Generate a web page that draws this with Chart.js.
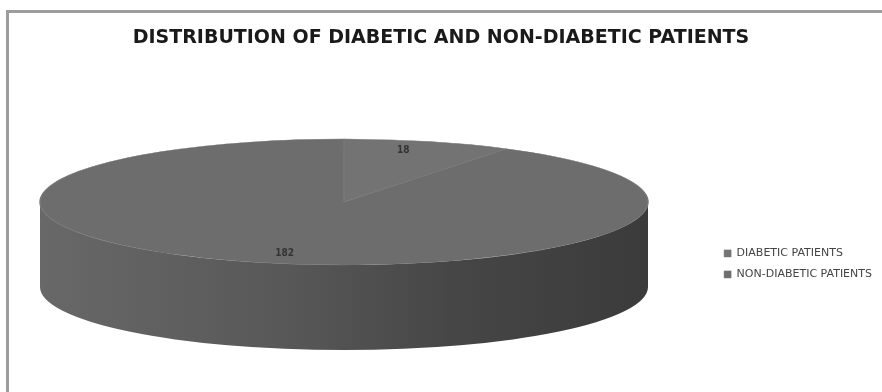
<!DOCTYPE html>
<html>
<head>
<meta charset="utf-8">
<script src="https://cdn.jsdelivr.net/npm/chart.js@4.4.0/dist/chart.umd.min.js"></script>
<style>
  body { margin: 0; background: #fff; }
  #wrap { position: relative; width: 882px; height: 392px; overflow: hidden; }
  #frame { position: absolute; left: 6px; top: 10px; width: 900px; height: 400px;
           border-left: 3px solid #9c9c9c; border-top: 3px solid #9c9c9c; }
  canvas { position: absolute; left: 0; top: 0; }
</style>
</head>
<body>
<div id="wrap">
  <div id="frame"></div>
  <canvas id="chart" width="882" height="392"></canvas>
</div>
<script>
const categories = ['DIABETIC PATIENTS', 'NON-DIABETIC PATIENTS'];
const patientCounts = [18, 182];
const sliceColors = ['#737373', '#6d6d6d'];
const chartTitle = 'DISTRIBUTION OF DIABETIC AND NON-DIABETIC PATIENTS';

// where the tilted pie sits on the canvas
const tilt = { cx: 344, cy: 202, rx: 304, ry: 63, depth: 85, labelX: 0.7, labelY: 0.85 };

// squash the pie into an ellipse and draw the side wall under it
const pie3d = {
  id: 'pie3d',
  beforeDatasetsDraw(chart) {
    const ctx = chart.ctx;
    const meta = chart.getDatasetMeta(0);
    const first = meta.data[0];
    const R = first.outerRadius;

    // side wall, only the front half is visible
    const grad = ctx.createLinearGradient(tilt.cx - tilt.rx, 0, tilt.cx + tilt.rx, 0);
    grad.addColorStop(0, '#686868');
    grad.addColorStop(0.4, '#585858');
    grad.addColorStop(0.68, '#464646');
    grad.addColorStop(1, '#3b3b3b');
    meta.data.forEach(arc => {
      const a0 = Math.max(arc.startAngle, 0);
      const a1 = Math.min(arc.endAngle, Math.PI);
      if (a1 <= a0) return;
      ctx.save();
      ctx.beginPath();
      ctx.ellipse(tilt.cx, tilt.cy, tilt.rx, tilt.ry, 0, a0, a1, false);
      ctx.ellipse(tilt.cx, tilt.cy + tilt.depth, tilt.rx, tilt.ry, 0, a1, a0, true);
      ctx.closePath();
      ctx.fillStyle = grad;
      ctx.fill();
      ctx.restore();
    });

    ctx.save();
    ctx.translate(tilt.cx, tilt.cy);
    ctx.scale(tilt.rx / R, tilt.ry / R);
    ctx.translate(-first.x, -first.y);
  },
  afterDatasetsDraw(chart) {
    const ctx = chart.ctx;
    ctx.restore();

    // value labels
    const meta = chart.getDatasetMeta(0);
    const values = chart.data.datasets[0].data;
    ctx.save();
    ctx.font = 'bold 10px "DejaVu Sans Condensed", "DejaVu Sans", sans-serif';
    ctx.fillStyle = '#333';
    ctx.textAlign = 'center';
    ctx.textBaseline = 'middle';
    meta.data.forEach((arc, i) => {
      const mid = (arc.startAngle + arc.endAngle) / 2;
      const x = tilt.cx + Math.cos(mid) * tilt.rx * tilt.labelX;
      const y = tilt.cy + Math.sin(mid) * tilt.ry * tilt.labelY;
      ctx.fillText(String(values[i]), x, y);
    });
    ctx.restore();
  }
};

new Chart(document.getElementById('chart'), {
  type: 'pie',
  data: {
    labels: categories,
    datasets: [{
      data: patientCounts,
      backgroundColor: sliceColors,
      borderColor: '#787878',
      borderWidth: 0.6,
      clip: false
    }]
  },
  options: {
    responsive: false,
    animation: false,
    events: [],
    layout: { padding: { left: 0, right: 0, top: 0, bottom: 0 } },
    plugins: {
      title: {
        display: true,
        text: chartTitle,
        color: '#1a1a1a',
        font: { family: '"DejaVu Sans", sans-serif', size: 19, weight: 'bold' },
        padding: { top: 27, bottom: 86 }
      },
      legend: {
        position: 'right',
        align: 'center',
        fullSize: false,
        labels: {
          color: '#444',
          boxWidth: 7,
          boxHeight: 7,
          padding: 10,
          font: { family: '"DejaVu Sans", sans-serif', size: 11 }
        }
      },
      tooltip: { enabled: false }
    }
  },
  plugins: [pie3d]
});
</script>
</body>
</html>
